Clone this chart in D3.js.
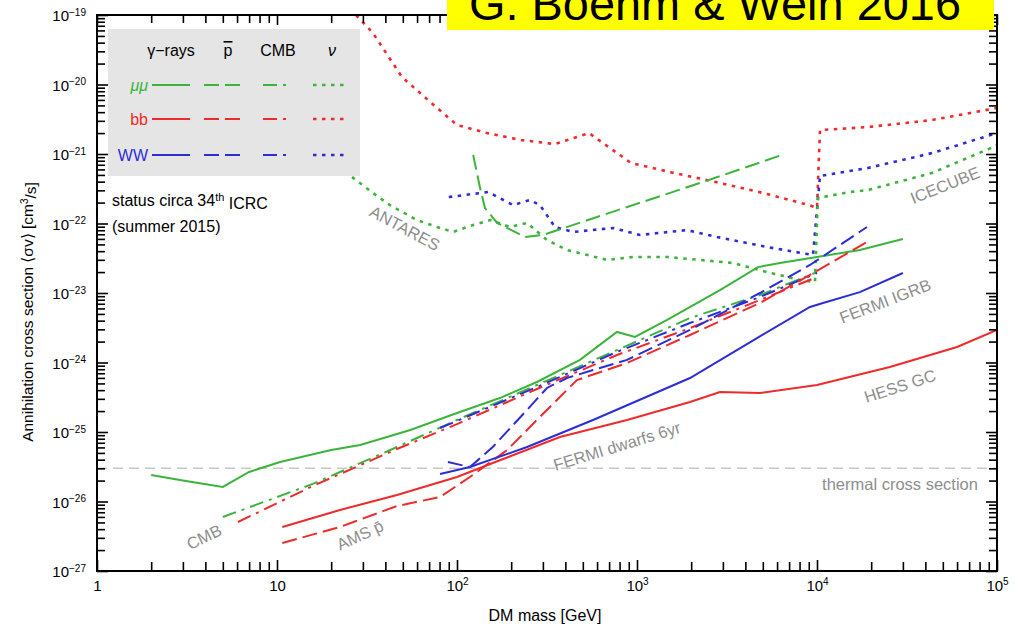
<!DOCTYPE html>
<html lang="en">
<head>
<meta charset="utf-8">
<script src="https://d3js.org/d3.v7.min.js"></script>
<style>
body { margin: 0; background: #fff; }
text { font-family: "Liberation Sans", Arial, Helvetica, sans-serif; }
</style>
</head>
<body>
<script>

// curves: [DM mass in GeV, <sigma v> in cm^3/s]
var gammaMuMu = [[2, 2.4e-26], [3, 2.0e-26], [5, 1.62e-26], [7, 2.66e-26], [10.4, 3.7e-26], [20, 5.5e-26],
  [29, 6.5e-26], [55, 1.07e-25], [100, 1.88e-25], [173, 3.08e-25], [278, 5.24e-25], [482, 1.09e-24],
  [774, 2.75e-24], [975, 2.33e-24], [1470, 4.09e-24], [2890, 1.1e-23], [4700, 2.36e-23], [6230, 2.7e-23],
  [10000, 3.3e-23], [17300, 4.16e-23], [30000, 5.98e-23]];
var gammaBB = [[10.7, 4.3e-27], [22.4, 7.55e-27], [46.4, 1.24e-26], [100, 2.25e-26], [158, 3.58e-26],
  [373, 8.47e-26], [880, 1.49e-25], [1970, 2.7e-25], [2890, 3.77e-25], [4820, 3.64e-25], [10000, 4.74e-25],
  [25400, 8.61e-25], [60000, 1.67e-24], [100000, 2.94e-24]];
var gammaWW = [[80.5, 2.49e-26], [118, 3.13e-26], [245, 6.08e-26], [570, 1.49e-25], [1970, 5.98e-25],
  [4640, 2.25e-24], [9140, 6.3e-24], [10800, 7.18e-24], [17300, 1.03e-23], [30000, 1.94e-23]];

var pbarMuMu = [[123, 9.68e-22], [134, 3.35e-22], [143, 1.67e-22], [167, 1.02e-22], [239, 6.4e-23],
  [300, 6.84e-23], [950, 1.84e-22], [2240, 3.83e-22], [6390, 9.68e-22]];
var pbarBB = [[10.7, 2.53e-27], [22.4, 4.3e-27], [46.4, 8.61e-27], [80.5, 1.16e-26], [118, 2.25e-26],
  [190, 5.51e-26], [278, 1.49e-25], [373, 3.19e-25], [464, 5.6e-25], [880, 9.84e-25], [1970, 2.49e-24],
  [4820, 7.18e-24], [9140, 1.82e-23], [18950, 5.42e-23]];
var pbarWW = [[89, 3.7e-26], [118, 3.13e-26], [158, 6.08e-26], [245, 2.08e-25], [316, 4.3e-25],
  [408, 5.98e-25], [570, 7.8e-25], [880, 1.09e-24], [1970, 2.94e-24], [4820, 1.0e-23], [9140, 2.53e-23],
  [18950, 8.91e-23]];

var cmbMuMu = [[5, 5.98e-27], [15.8, 1.79e-26], [46.4, 6.08e-26], [100, 1.49e-25], [278, 4.74e-25],
  [774, 1.51e-24], [1970, 4.36e-24], [4820, 9.35e-24], [10000, 2.0e-23]];
var cmbBB = [[6.07, 5.07e-27], [15.8, 1.67e-26], [46.4, 5.69e-26], [100, 1.3e-25], [278, 4.16e-25],
  [774, 1.28e-24], [1970, 3.13e-24], [4820, 7.93e-24], [10000, 1.7e-23]];
var cmbWW = [[80.5, 1.14e-25], [278, 4.44e-25], [774, 1.42e-24], [1970, 3.7e-24], [4820, 8.75e-24],
  [10000, 1.94e-23]];

var nuMuMu = [[26.1, 4.67e-22], [34.1, 2.75e-22], [42.4, 1.84e-22], [60, 1.12e-22], [77.4, 8.91e-23],
  [95, 7.55e-23], [118, 9.2e-23], [153, 1.12e-22], [197, 8.91e-23], [245, 1.02e-22], [316, 5.8e-23],
  [408, 4.16e-23], [681, 2.99e-23], [950, 3.3e-23], [1470, 3.3e-23], [2240, 2.99e-23], [3415, 2.7e-23],
  [5275, 2.0e-23], [8050, 1.54e-23], [9750, 1.44e-23], [10100, 2.33e-22], [15250, 2.84e-22],
  [19200, 3.03e-22], [43500, 5.33e-22], [92600, 1.22e-21], [100000, 1.35e-21]];
var nuBB = [[27.5, 1.0e-19], [34.1, 5.51e-20], [49.5, 1.28e-20], [69, 5.98e-21], [100, 2.61e-21],
  [147, 2.0e-21], [227, 1.59e-21], [350, 1.39e-21], [541, 2.0e-21], [926, 7.43e-22], [1606, 5.33e-22],
  [2748, 3.95e-22], [5012, 2.75e-22], [9030, 1.84e-22], [10000, 1.67e-22], [10390, 2.21e-21],
  [19200, 2.44e-21], [43500, 3.08e-21], [100000, 4.59e-21]];
var nuWW = [[90, 2.4e-22], [149, 2.84e-22], [205, 1.84e-22], [254, 2.18e-22], [289, 1.84e-22],
  [350, 8.91e-23], [441, 7.55e-23], [735, 8.61e-23], [1040, 6.84e-23], [1895, 8.05e-23], [2783, 6.4e-23],
  [5275, 4.59e-23], [9500, 3.52e-23], [10390, 4.82e-22], [19200, 6.29e-22], [43500, 1.03e-21],
  [100000, 2.0e-21]];

var thermal = 3e-26;

// curve labels: text, mass, sigma, rotation
var annotations = [
  ["ANTARES", 51.4, 8.6e-23, 28],
  ["ICECUBE", 51400, 3.58e-22, -22],
  ["FERMI IGRB", 23900, 7.7e-24, -21],
  ["HESS GC", 28900, 4.6e-25, -18],
  ["FERMI dwarfs 6yr", 774, 6.3e-26, -17],
  ["CMB", 3.93, 3.1e-27, -26],
  ["AMS p\u0304", 28.9, 3.3e-27, -25]
];

var channels = ["\u03bc\u03bc", "bb", "WW"];
var probes = ["\u03b3\u2212rays", "p", "CMB", "\u03bd"];

var width = 1021, height = 628;
var green = "#3cb43c", red = "#ee2b2b", blue = "#2d2dd6";
var dash = { solid: null, dashed: "15,6", dashdot: "14,6,3,6", dotted: "3.5,5.5" };

var svg = d3.select("body").append("svg")
    .attr("width", width)
    .attr("height", height);

var x = d3.scaleLog().domain([1, 1e5]).range([97, 997]);
var y = d3.scaleLog().domain([1e-27, 1e-19]).range([571, 15]);

svg.append("clipPath").attr("id", "plot")
  .append("rect")
    .attr("x", x.range()[0]).attr("y", y.range()[1])
    .attr("width", x.range()[1] - x.range()[0])
    .attr("height", y.range()[0] - y.range()[1]);

function isMajor(v) {
  var l = Math.log10(v);
  return Math.abs(l - Math.round(l)) < 1e-6;
}

// thermal line
var plot = svg.append("g").attr("clip-path", "url(#plot)");
plot.append("line")
    .attr("x1", x.range()[0]).attr("x2", x.range()[1])
    .attr("y1", y(thermal)).attr("y2", y(thermal))
    .attr("stroke", "#c8c8c8").attr("stroke-width", 1.5)
    .attr("stroke-dasharray", "10,6");

// curves
var line = d3.line()
    .x(function(d) { return x(d[0]); })
    .y(function(d) { return y(d[1]); });

var curves = [
  [nuBB, red, "dotted"], [nuWW, blue, "dotted"], [nuMuMu, green, "dotted"],
  [pbarMuMu, green, "dashed"],
  [gammaMuMu, green, "solid"],
  [cmbMuMu, green, "dashdot"], [cmbWW, blue, "dashdot"], [cmbBB, red, "dashdot"],
  [pbarWW, blue, "dashed"], [pbarBB, red, "dashed"],
  [gammaWW, blue, "solid"], [gammaBB, red, "solid"]
];

plot.selectAll("path.curve")
  .data(curves)
  .enter().append("path")
    .attr("class", "curve")
    .attr("d", function(d) { return line(d[0]); })
    .attr("fill", "none")
    .attr("stroke", function(d) { return d[1]; })
    .attr("stroke-width", function(d) { return d[2] == "dotted" ? 2.6 : 2; })
    .attr("stroke-dasharray", function(d) { return dash[d[2]]; });

// curve labels
var labels = svg.append("g")
    .attr("fill", "#8e8e8e")
    .attr("font-size", "16.5px");

labels.selectAll("text.ann")
  .data(annotations)
  .enter().append("text")
    .attr("class", "ann")
    .attr("text-anchor", "middle")
    .attr("dominant-baseline", "central")
    .attr("transform", function(d) { return "translate(" + x(d[1]) + "," + y(d[2]) + ") rotate(" + d[3] + ")"; })
    .text(function(d) { return d[0]; });

labels.append("text")
    .attr("x", x(78400)).attr("y", y(1.46e-26))
    .attr("text-anchor", "end")
    .text("thermal cross section");

// axes (ticks point inwards)
function supLabel(sel, n) {
  sel.text(null);
  if (n == 0) { sel.append("tspan").text("1"); return; }
  if (n == 1) { sel.append("tspan").text("10"); return; }
  sel.append("tspan").text("10");
  sel.append("tspan").attr("dy", "-0.55em").attr("font-size", "10px")
    .text(n < 0 ? "\u2212" + (-n) : n);
}

var xTicks = x.ticks();
var yTicks = y.ticks();

var gx = svg.append("g")
    .attr("transform", "translate(0," + y.range()[0] + ")")
    .call(d3.axisBottom(x).tickValues(xTicks).tickSizeInner(-9).tickSizeOuter(0).tickPadding(9).tickFormat(""));
var gxt = svg.append("g")
    .attr("transform", "translate(0," + y.range()[1] + ")")
    .call(d3.axisTop(x).tickValues(xTicks).tickSizeInner(-8).tickSizeOuter(0).tickFormat(""));
var gy = svg.append("g")
    .attr("transform", "translate(" + x.range()[0] + ",0)")
    .call(d3.axisLeft(y).tickValues(yTicks).tickSizeInner(-8).tickSizeOuter(0).tickPadding(11).tickFormat(""));
var gyr = svg.append("g")
    .attr("transform", "translate(" + x.range()[1] + ",0)")
    .call(d3.axisRight(y).tickValues(yTicks).tickSizeInner(-8).tickSizeOuter(0).tickFormat(""));

[gx, gxt, gy, gyr].forEach(function(g) {
  g.select(".domain").remove();
  g.selectAll(".tick line").attr("stroke", "#000").attr("stroke-width", 1.6);
  g.attr("font-family", null).attr("font-size", "15px");
});

gx.selectAll(".tick").filter(isMajor).select("line").attr("y2", -11);
gxt.selectAll(".tick").filter(isMajor).select("line").attr("y2", 10);
gy.selectAll(".tick").filter(isMajor).select("line").attr("x2", 11);
gyr.selectAll(".tick").filter(isMajor).select("line").attr("x2", -11);

gx.selectAll(".tick").filter(isMajor).select("text")
    .attr("fill", "#000")
    .each(function(d) { supLabel(d3.select(this), Math.round(Math.log10(d))); });
gy.selectAll(".tick").filter(isMajor).select("text")
    .attr("fill", "#000")
    .attr("dy", "0.38em")
    .each(function(d) { supLabel(d3.select(this), Math.round(Math.log10(d))); });

// frame
svg.append("rect")
    .attr("x", x.range()[0]).attr("y", y.range()[1])
    .attr("width", x.range()[1] - x.range()[0])
    .attr("height", y.range()[0] - y.range()[1])
    .attr("fill", "none").attr("stroke", "#000").attr("stroke-width", 2);

// axis titles
svg.append("text")
    .attr("x", (x.range()[0] + x.range()[1]) / 2 - 2)
    .attr("y", 621)
    .attr("text-anchor", "middle")
    .attr("font-size", "16px")
    .text("DM mass [GeV]");

var yt = svg.append("text")
    .attr("transform", "translate(33,312) rotate(-90)")
    .attr("text-anchor", "middle")
    .attr("font-size", "15.5px");
yt.append("tspan").text("Annihilation cross section \u27e8\u03c3v\u27e9 [cm");
yt.append("tspan").attr("dy", "-0.5em").attr("font-size", "10px").text("3");
yt.append("tspan").attr("dy", "0.5em").text("/s]");

// legend
var legend = svg.append("g");
legend.append("rect")
    .attr("x", 108).attr("y", 29).attr("width", 252).attr("height", 147)
    .attr("fill", "#e5e5e5");

var colX = [171, 228, 278, 332];
var colStyle = ["solid", "dashed", "dashdot", "dotted"];
var colX0 = [152, 204, 263, 313], colX1 = [190, 243, 292, 349];
var rowY = [85, 119, 155];
var rowColor = [green, red, blue];

legend.selectAll("text.head")
  .data(probes)
  .enter().append("text")
    .attr("class", "head")
    .attr("x", function(d, i) { return colX[i]; })
    .attr("y", 56)
    .attr("text-anchor", "middle")
    .attr("font-size", "16px")
    .attr("font-style", function(d, i) { return i == 3 ? "italic" : null; })
    .style("text-decoration", function(d, i) { return i == 1 ? "overline" : null; })
    .text(function(d) { return d; });

channels.forEach(function(c, r) {
  legend.append("text")
      .attr("x", 148).attr("y", rowY[r] + 6)
      .attr("text-anchor", "end")
      .attr("font-size", "16px")
      .attr("font-style", r == 0 ? "italic" : null)
      .attr("fill", rowColor[r])
      .text(c);
  colStyle.forEach(function(s, i) {
    legend.append("line")
        .attr("x1", colX0[i]).attr("x2", colX1[i])
        .attr("y1", rowY[r]).attr("y2", rowY[r])
        .attr("stroke", rowColor[r])
        .attr("stroke-width", s == "dotted" ? 2.6 : 2)
        .attr("stroke-dasharray", dash[s]);
  });
});

var statusText = svg.append("text").attr("x", 112).attr("y", 206).attr("font-size", "16px");
statusText.append("tspan").text("status circa 34");
statusText.append("tspan").attr("dy", "-0.5em").attr("font-size", "11px").text("th");
statusText.append("tspan").attr("dy", "0.5em").text(" ICRC");
svg.append("text").attr("x", 112).attr("y", 232).attr("font-size", "16px").text("(summer 2015)");

// citation box, cut off at the top of the slide as in the source
svg.append("rect")
    .attr("x", 447).attr("y", 0).attr("width", 547).attr("height", 30)
    .attr("fill", "#ffff00");
svg.append("text")
    .attr("x", 469).attr("y", 20)
    .attr("font-family", "'Comic Sans MS', 'DejaVu Sans', sans-serif")
    .attr("font-size", "46px")
    .attr("textLength", 492)
    .attr("lengthAdjust", "spacingAndGlyphs")
    .text("G. Boehm & Weih 2016");

</script>
</body>
</html>
